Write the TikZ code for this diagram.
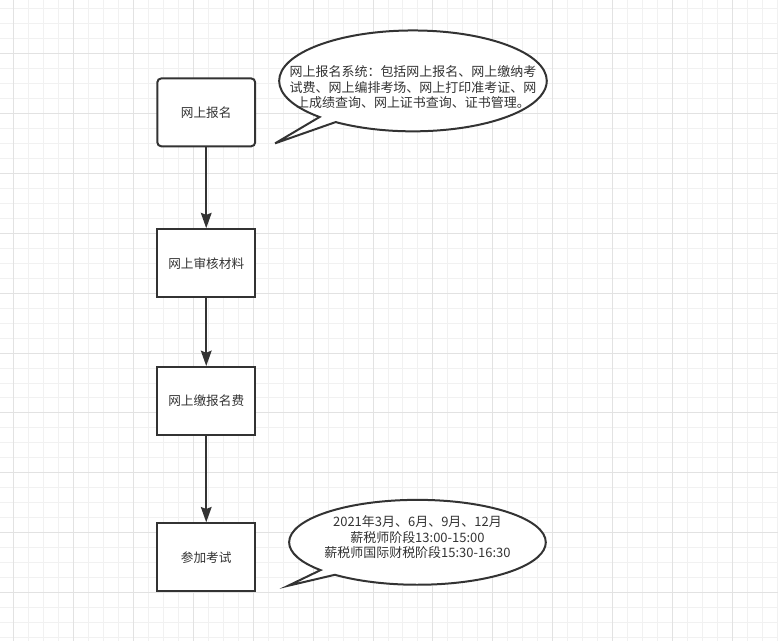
\documentclass[tikz,border=0pt]{standalone}
\usepackage{fontspec}
\setmainfont{Noto Sans CJK SC}
\usetikzlibrary{shapes.callouts,arrows.meta}
\definecolor{ink}{RGB}{51,51,51}
\definecolor{gridminor}{RGB}{241,241,241}
\definecolor{gridmajor}{RGB}{226,226,226}

\begin{document}
\begin{tikzpicture}[x=0.75pt, y=-0.75pt,
    >={Stealth[length=11.5pt,width=8pt,inset=1.5pt]},
    stepbox/.style={draw=ink,line width=1.5pt,fill=white,minimum width=73.5pt,minimum height=51pt,
      inner sep=0pt,text=ink,font=\fontsize{9.5}{11}\selectfont},
    bubble/.style={ellipse callout,draw=ink,line width=1.5pt,fill=white,inner sep=0pt,callout pointer arc=9},
    note/.style={align=center,text=ink,font=\fontsize{9.75}{11.6}\selectfont}]
    % background grid
    \fill[white] (0,0) rectangle (778,641);
    \foreach \gx in {13,28,...,778} \draw[gridminor,line width=0.75pt] (\gx,0) -- (\gx,641);
    \foreach \gy in {8,23,...,641} \draw[gridminor,line width=0.75pt] (0,\gy) -- (778,\gy);
    \foreach \gx in {13,73,...,778} \draw[gridmajor,line width=0.75pt] (\gx,0) -- (\gx,641);
    \foreach \gy in {53,113,...,641} \draw[gridmajor,line width=0.75pt] (0,\gy) -- (778,\gy);
    \useasboundingbox (0,0) rectangle (778,641);

    % flow
    \node[stepbox,rounded corners=3pt] (signup) at (206,112) {网上报名};
    \node[stepbox] (review) at (206,263) {网上审核材料};
    \node[stepbox] (payfee) at (206,401) {网上缴报名费};
    \node[stepbox] (exam) at (206,557.5) {参加考试};

    \draw[->,draw=ink,line width=1.5pt] (signup) -- (review);
    \draw[->,draw=ink,line width=1.5pt] (review) -- (payfee);
    \draw[->,draw=ink,line width=1.5pt] (payfee) -- (exam);

    % callouts
    \node[bubble,minimum width=201pt,minimum height=75.75pt,callout absolute pointer={(275,143)}] (sysbubble) at (413,80.5) {};
    \node[note] (sysnote) at (413,87)
      {网上报名系统：包括网上报名、网上缴纳考\\试费、网上编排考场、网上打印准考证、网\\上成绩查询、网上证书查询、证书管理。};
    \node[bubble,minimum width=192.75pt,minimum height=63.75pt,callout absolute pointer={(288,586)}] (timebubble) at (417.5,542.5) {};
    \node[note] (timenote) at (417.5,537.5)
      {2021年3月、6月、9月、12月\\薪税师阶段13:00-15:00\\薪税师国际财税阶段15:30-16:30};
  \end{tikzpicture}
\end{document}
